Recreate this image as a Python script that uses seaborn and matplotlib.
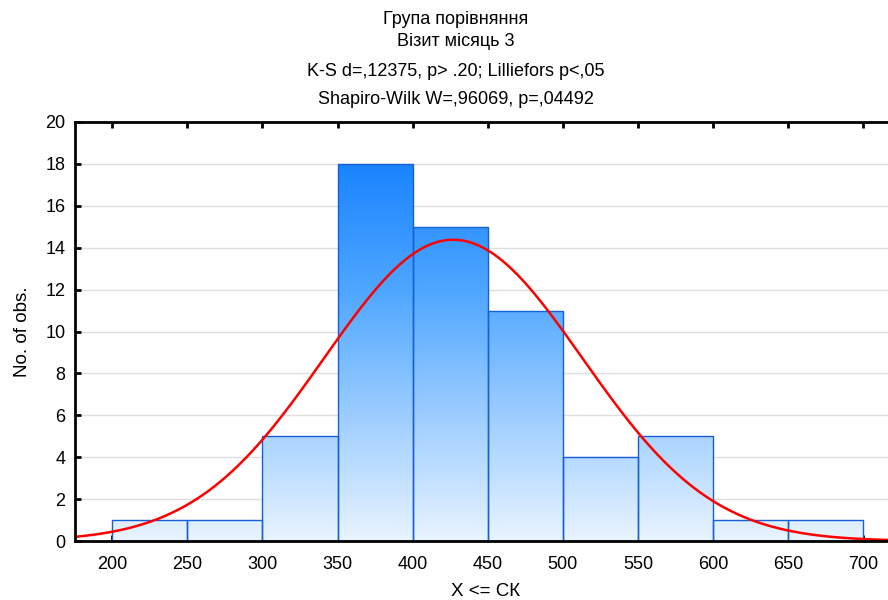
import numpy as np
import pandas as pd
import matplotlib
matplotlib.use("Agg")
import matplotlib.pyplot as plt
from matplotlib.colors import LinearSegmentedColormap
import seaborn as sns

# Histogram of CK values, 50-unit bins
bin_edges = [200, 250, 300, 350, 400, 450, 500, 550, 600, 650, 700]
bin_counts = [1, 1, 5, 18, 15, 11, 4, 5, 1, 1]

# Fitted normal distribution parameters
fit_mean = 427.0
fit_sd = 86.0

x_ticks = [200, 250, 300, 350, 400, 450, 500, 550, 600, 650, 700]
y_ticks = [0, 2, 4, 6, 8, 10, 12, 14, 16, 18, 20]

title_lines = ["Група порівняння", "Візит місяць 3"]
stats_lines = ["K-S d=,12375, p> .20; Lilliefors p<,05",
               "Shapiro-Wilk W=,96069, p=,04492"]
x_label = "X <= СК"
y_label = "No. of obs."

sns.set_theme(style="white")
plt.rcParams["font.family"] = ["Liberation Sans", "DejaVu Sans"]
plt.rcParams["text.color"] = "black"
plt.rcParams["axes.labelcolor"] = "black"

fig = plt.figure(figsize=(8.88, 6.0), dpi=100)
ax = fig.add_axes([75 / 888, 1 - 541 / 600, 1 - 75 / 888 + 0.002, (541 - 122) / 600])

centers = [(a + b) / 2 for a, b in zip(bin_edges[:-1], bin_edges[1:])]
df = pd.DataFrame({"ck": centers, "n": bin_counts})
sns.histplot(data=df, x="ck", weights="n", bins=bin_edges, ax=ax,
             stat="count", fill=True, facecolor="none",
             edgecolor="#1560d6", linewidth=1.0, zorder=3)

xmin, xmax = 175.3, 717.5

# vertical gradient fill clipped to each bar
grad_cmap = LinearSegmentedColormap.from_list(
    "grad", ["#e9f4ff", "#9ccdff", "#4ea6ff", "#1a84ff"])
grad = np.linspace(0, 1, 256).reshape(-1, 1)
for patch in list(ax.patches):
    img = ax.imshow(grad, cmap=grad_cmap, aspect="auto", origin="lower",
                    extent=[xmin, xmax, 0, 18], zorder=2,
                    interpolation="bilinear")
    img.set_clip_path(patch)
ax.set_xlim(xmin, xmax)
ax.set_ylim(0, 20)

# expected frequencies from the fitted normal curve
xs = np.linspace(xmin, xmax, 600)
binw = bin_edges[1] - bin_edges[0]
n_total = sum(bin_counts)
ys = n_total * binw * np.exp(-0.5 * ((xs - fit_mean) / fit_sd) ** 2) / (fit_sd * np.sqrt(2 * np.pi))
sns.lineplot(x=xs, y=ys, ax=ax, color="#ff0000", linewidth=1.8, zorder=4)

ax.set_xticks(x_ticks)
ax.set_yticks(y_ticks)
ax.tick_params(axis="both", labelsize=13, colors="black", length=4, width=2,
               direction="in")
ax.tick_params(axis="x", top=True, bottom=True, pad=11)
ax.tick_params(axis="y", left=True, right=False, pad=7)
ax.grid(axis="y", color="#dedede", linewidth=1.0, zorder=0)
ax.set_axisbelow(True)

for side in ["left", "top", "bottom"]:
    ax.spines[side].set_visible(True)
    ax.spines[side].set_color("black")
    ax.spines[side].set_linewidth(2)
    ax.spines[side].set_zorder(6)
ax.spines["right"].set_visible(False)

ax.set_xlabel("")
ax.set_ylabel(y_label, fontsize=13.5, labelpad=10)
fig.text(486 / 888, 1 - 592 / 600, x_label, ha="center", va="center", fontsize=13.5)

title_size = 13
cx = 456 / 888
fig.text(cx, 1 - 20 / 600, title_lines[0], ha="center", va="center", fontsize=title_size)
fig.text(cx, 1 - 42 / 600, title_lines[1], ha="center", va="center", fontsize=title_size)
fig.text(cx, 1 - 72 / 600, stats_lines[0], ha="center", va="center", fontsize=title_size)
fig.text(cx, 1 - 100 / 600, stats_lines[1], ha="center", va="center", fontsize=title_size)

fig.savefig("out.png", dpi=100)
